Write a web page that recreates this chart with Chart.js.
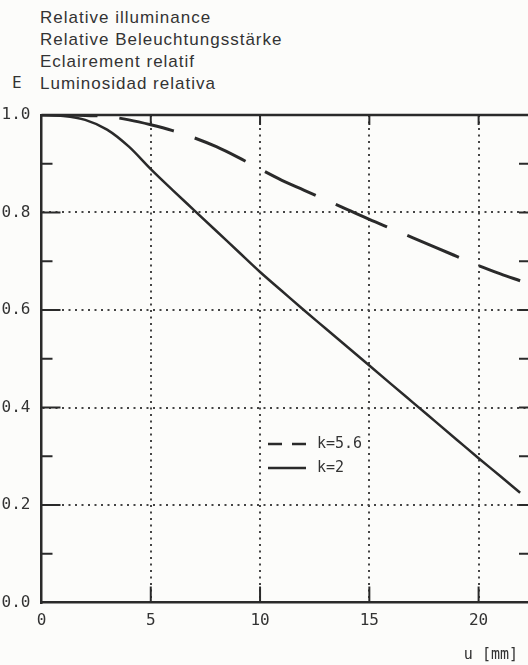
<!DOCTYPE html>
<html>
<head>
<meta charset="utf-8">
<script src="https://cdn.jsdelivr.net/npm/chart.js@4/dist/chart.umd.min.js"></script>
<style>
  body { margin: 0; background: #fcfcfa; }
  #wrap { position: relative; width: 528px; height: 665px; }
  #graph { position: absolute; left: 0; top: 0; }
  .head { position: absolute; left: 40px; font: 17px "Liberation Sans", Arial, sans-serif; letter-spacing: 1px; color: #333; line-height: 22px; }
  #eLabel { position: absolute; left: 12px; top: 73px; font: 16px "DejaVu Sans Mono", monospace; color: #333; }
</style>
</head>
<body>
<div id="wrap">
  <div class="head" style="top:7px">Relative illuminance</div>
  <div class="head" style="top:29px">Relative Beleuchtungsstärke</div>
  <div class="head" style="top:51px">Eclairement relatif</div>
  <div class="head" style="top:73px">Luminosidad relativa</div>
  <div id="eLabel">E</div>
  <canvas id="graph" width="528" height="665"></canvas>
</div>
<script>
// u [mm] positions
const uValues = [0, 1, 2, 3, 4, 5, 6, 7, 8, 9, 10, 11, 12, 13, 14, 15, 16, 17, 18, 19, 20, 21, 21.9];
const k56 = [1.0, 1.0, 0.999, 0.997, 0.99, 0.98, 0.968, 0.953, 0.935, 0.913, 0.889, 0.866, 0.846, 0.826, 0.806, 0.786, 0.767, 0.748, 0.729, 0.710, 0.691, 0.674, 0.66];
const k2 = [1.0, 0.998, 0.99, 0.97, 0.935, 0.889, 0.846, 0.804, 0.762, 0.72, 0.678, 0.639, 0.600, 0.562, 0.524, 0.486, 0.448, 0.410, 0.372, 0.334, 0.296, 0.259, 0.225];

const xTicks = [0, 5, 10, 15, 20];
const yTicks = [0, 0.2, 0.4, 0.6, 0.8, 1.0];
const yMinorTicks = [0.1, 0.2, 0.3, 0.4, 0.5, 0.6, 0.7, 0.8, 0.9];
const xTitle = 'u [mm]';

const ink = '#2a2a2a';
const mono = '"DejaVu Sans Mono", monospace';

function toPoints(ys) {
    return uValues.map((u, i) => ({ x: u, y: ys[i] }));
}

// frame, inward ticks, legend and unit label
const frame = {
    id: 'frame',
    afterDraw(chart) {
        const { ctx, chartArea: a, scales: { x, y } } = chart;
        const line = (x1, y1, x2, y2) => {
            ctx.beginPath(); ctx.moveTo(x1, y1); ctx.lineTo(x2, y2); ctx.stroke();
        };
        ctx.save();
        ctx.strokeStyle = ink;
        ctx.lineWidth = 2.5;
        line(a.left, a.top, a.right, a.top);

        ctx.lineWidth = 2;
        yMinorTicks.forEach(v => {
            const py = y.getPixelForValue(v);
            const major = Math.round(v * 10) % 2 === 0;
            line(a.left, py, a.left + (major ? 19 : 11), py);
            line(a.right - 9, py, a.right, py);
        });
        xTicks.slice(1).forEach(v => {
            const px = x.getPixelForValue(v);
            line(px, a.bottom, px, a.bottom - 16);
            line(px, a.top, px, a.top + 10);
        });

        // legend
        const ds = chart.data.datasets;
        const lx = 268, rows = [444, 468];
        ds.forEach((d, i) => {
            ctx.lineWidth = 2.5;
            ctx.setLineDash(d.borderDash ? [14, 10] : []);
            line(lx, rows[i], lx + 38, rows[i]);
        });
        ctx.setLineDash([]);
        ctx.fillStyle = '#333';
        ctx.font = '15px ' + mono;
        ctx.textBaseline = 'middle';
        ds.forEach((d, i) => ctx.fillText(d.label, lx + 49, rows[i]));

        ctx.textAlign = 'right';
        ctx.fillText(xTitle, 518, 655);
        ctx.restore();
    }
};

new Chart(document.getElementById('graph'), {
    type: 'line',
    data: {
        datasets: [{
            label: 'k=5.6',
            data: toPoints(k56),
            borderColor: ink,
            borderWidth: 3,
            borderDash: [56, 22],
            pointRadius: 0,
            cubicInterpolationMode: 'monotone'
        }, {
            label: 'k=2',
            data: toPoints(k2),
            borderColor: ink,
            borderWidth: 2.5,
            pointRadius: 0,
            cubicInterpolationMode: 'monotone'
        }]
    },
    options: {
        responsive: false,
        animation: false,
        layout: { padding: { top: 115, right: 0, left: 0, bottom: 0 } },
        plugins: { legend: { display: false }, tooltip: { enabled: false } },
        scales: {
            x: {
                type: 'linear',
                min: 0,
                max: 22.26,
                afterFit: s => { s.height = 62.5; },
                afterBuildTicks: s => { s.ticks = xTicks.map(v => ({ value: v })); },
                ticks: { color: '#333', font: { family: mono, size: 16 }, padding: 9 },
                grid: {
                    drawTicks: false,
                    lineWidth: 2,
                    color: c => (c.tick && c.tick.value > 0 ? '#444' : 'transparent')
                },
                border: { color: ink, width: 2.5, dash: [2, 4.5] }
            },
            y: {
                min: 0,
                max: 1,
                afterFit: s => { s.width = 41.5; },
                afterBuildTicks: s => { s.ticks = yTicks.map(v => ({ value: v })); },
                ticks: {
                    color: '#333',
                    font: { family: mono, size: 16 },
                    padding: 11,
                    callback: v => v.toFixed(1)
                },
                grid: {
                    drawTicks: false,
                    lineWidth: 2,
                    color: c => (c.tick && c.tick.value > 0 && c.tick.value < 1 ? '#444' : 'transparent')
                },
                border: { color: ink, width: 2.5, dash: [2, 4.5] }
            }
        }
    },
    plugins: [frame]
});
</script>
</body>
</html>
